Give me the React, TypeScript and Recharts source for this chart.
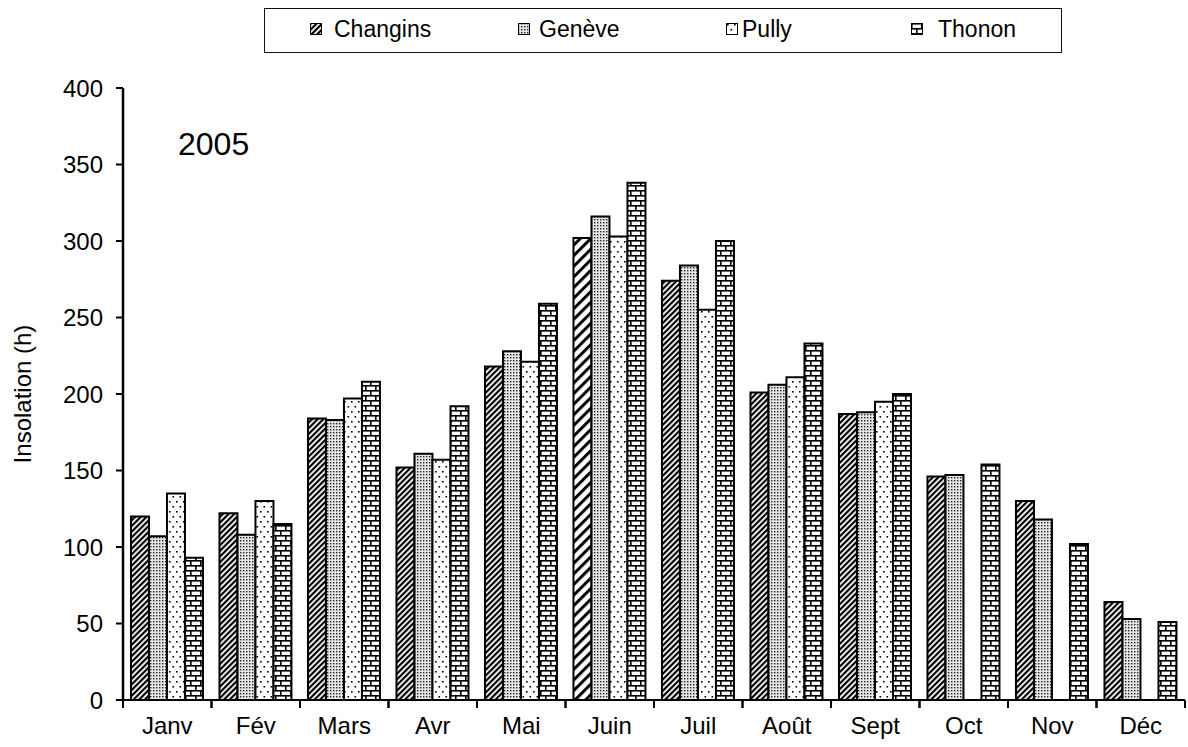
import React from "react";
import { BarChart, Bar, XAxis, YAxis, Cell, Label } from "recharts";

const MONTHS = ["Janv", "Fév", "Mars", "Avr", "Mai", "Juin", "Juil", "Août", "Sept", "Oct", "Nov", "Déc"];
const CHANGINS = [120, 122, 184, 152, 218, 302, 274, 201, 187, 146, 130, 64];
const GENEVE = [107, 108, 183, 161, 228, 316, 284, 206, 188, 147, 118, 53];
const PULLY = [135, 130, 197, 157, 221, 303, 255, 211, 195, null, null, null];
const THONON = [93, 115, 208, 192, 259, 338, 300, 233, 200, 154, 102, 51];
const Y_TICKS = [0, 50, 100, 150, 200, 250, 300, 350, 400];
const SERIES_NAMES = ["Changins", "Genève", "Pully", "Thonon"];
const YEAR_LABEL = "2005";
const Y_TITLE = "Insolation (h)";

const data = MONTHS.map((m, i) => ({
  month: m,
  changins: CHANGINS[i],
  geneve: GENEVE[i],
  pully: PULLY[i],
  thonon: THONON[i],
}));

const W = 1188;
const H = 747;
const MARGIN = { top: 88, right: 3, left: 0, bottom: 0 };
const Y_AXIS_W = 123;
const X_AXIS_H = 47;
const PLOT_BOTTOM = H - MARGIN.bottom - X_AXIS_H;
const BAND = (W - MARGIN.left - MARGIN.right - Y_AXIS_W) / MONTHS.length;
const FONT = "'Liberation Sans', Arial, sans-serif";

const PATTERN_IDS = ["pHatch", "pGeneve", "pPully", "pBrick"];

const XTick = (props: any) => {
  const { x, payload } = props;
  const y = PLOT_BOTTOM;
  const half = BAND / 2;
  return (
    <g>
      <line x1={x - half} y1={y} x2={x - half} y2={y + 8} stroke="#000" strokeWidth={2} />
      <line x1={x + half} y1={y} x2={x + half} y2={y + 8} stroke="#000" strokeWidth={2} />
      <text x={x} y={y + 34} textAnchor="middle" fontSize={24} fontFamily={FONT} fill="#000">
        {payload.value}
      </text>
    </g>
  );
};

const YTitle = (props: any) => {
  const vb = props.viewBox || {};
  const cx = 22;
  const cy = (vb.y ?? 88) + (vb.height ?? 612) / 2;
  return (
    <text
      x={cx}
      y={cy}
      transform={`rotate(-90, ${cx}, ${cy})`}
      textAnchor="middle"
      dominantBaseline="central"
      fontSize={24}
      fontFamily={FONT}
      fill="#000"
    >
      {Y_TITLE}
    </text>
  );
};

const Defs = () => (
  <defs>
    <pattern id="pHatch" patternUnits="userSpaceOnUse" width="4" height="4" patternTransform="rotate(45)">
      <rect width="4" height="4" fill="#fff" />
      <rect x="0" y="0" width="2.2" height="4" fill="#000" />
    </pattern>
    <pattern id="pHatchWide" patternUnits="userSpaceOnUse" width="7.5" height="7.5" patternTransform="rotate(45)">
      <rect width="7.5" height="7.5" fill="#fff" />
      <rect x="0" y="0" width="3" height="7.5" fill="#000" />
    </pattern>
    <pattern id="pGeneve" patternUnits="userSpaceOnUse" width="3" height="3">
      <rect width="3" height="3" fill="#e6e6e6" />
      <rect x="0" y="0" width="1.4" height="1.4" fill="#222" />
    </pattern>
    <pattern id="pPully" patternUnits="userSpaceOnUse" width="7" height="10">
      <rect width="7" height="10" fill="#fff" />
      <rect x="1" y="1" width="1.6" height="1.6" fill="#000" />
      <rect x="4.5" y="6" width="1.6" height="1.6" fill="#000" />
    </pattern>
    <pattern id="pBrick" patternUnits="userSpaceOnUse" width="10" height="10">
      <rect width="10" height="10" fill="#fff" />
      <rect x="0" y="0" width="10" height="1.6" fill="#000" />
      <rect x="0" y="5" width="10" height="1.6" fill="#000" />
      <rect x="0" y="0" width="1.6" height="5" fill="#000" />
      <rect x="5" y="5" width="1.6" height="5" fill="#000" />
    </pattern>
  </defs>
);

const LEGEND_POS = [
  { sw: 310, tx: 334 },
  { sw: 518, tx: 539 },
  { sw: 726, tx: 742 },
  { sw: 911, tx: 938 },
];

export default function App() {
  return (
    <div style={{ position: "absolute", left: 0, top: 0, width: W, height: H, background: "#fff", fontFamily: FONT, overflow: "hidden" }}>
      <svg width="0" height="0" style={{ position: "absolute" }}>
        <Defs />
      </svg>
      <BarChart
        width={W}
        height={H}
        data={data}
        margin={MARGIN}
        barCategoryGap="9%"
        barGap={0}
      >
        <XAxis
          dataKey="month"
          height={X_AXIS_H}
          tickLine={false}
          tickSize={0}
          tickMargin={0}
          axisLine={{ stroke: "#000", strokeWidth: 2 }}
          tick={<XTick />}
          interval={0}
        />
        <XAxis xAxisId="top" orientation="top" dataKey="month" height={0} tick={false} tickLine={false} axisLine={{ stroke: "#000", strokeWidth: 2 }} />
        <YAxis
          width={Y_AXIS_W}
          domain={[0, 400]}
          ticks={Y_TICKS}
          interval={0}
          tickSize={7}
          tickMargin={13}
          tickLine={{ stroke: "#000", strokeWidth: 2 }}
          axisLine={{ stroke: "#000", strokeWidth: 2.5 }}
          tick={{ fontSize: 24, fill: "#000", fontFamily: FONT }}
        >
          <Label content={<YTitle />} />
        </YAxis>
        <YAxis yAxisId="right" orientation="right" width={0} domain={[0, 400]} tick={false} tickLine={false} axisLine={{ stroke: "#000", strokeWidth: 2.5 }} />
        <Bar dataKey="changins" name={SERIES_NAMES[0]} stroke="#000" strokeWidth={2} fill="url(#pHatch)" isAnimationActive={false}>
          {MONTHS.map((m) => (
            <Cell key={m} fill={m === "Juin" ? "url(#pHatchWide)" : "url(#pHatch)"} />
          ))}
        </Bar>
        <Bar dataKey="geneve" name={SERIES_NAMES[1]} stroke="#000" strokeWidth={2} fill="url(#pGeneve)" isAnimationActive={false} />
        <Bar dataKey="pully" name={SERIES_NAMES[2]} stroke="#000" strokeWidth={2} fill="url(#pPully)" isAnimationActive={false} />
        <Bar dataKey="thonon" name={SERIES_NAMES[3]} stroke="#000" strokeWidth={2} fill="url(#pBrick)" isAnimationActive={false} />
      </BarChart>

      <div
        style={{
          position: "absolute",
          left: 264,
          top: 8,
          width: 796,
          height: 43,
          border: "1.5px solid #111",
          background: "#fff",
        }}
      >
        {SERIES_NAMES.map((name, i) => (
          <React.Fragment key={name}>
            <svg
              width={12}
              height={12}
              style={{ position: "absolute", left: LEGEND_POS[i].sw - 265, top: 14 }}
            >
              <rect x={0.5} y={0.5} width={11} height={11} fill={`url(#${PATTERN_IDS[i]})`} stroke="#000" strokeWidth={1} />
            </svg>
            <span
              style={{
                position: "absolute",
                left: LEGEND_POS[i].tx - 265,
                top: 0,
                lineHeight: "40px",
                fontSize: 23,
                color: "#000",
                whiteSpace: "nowrap",
              }}
            >
              {name}
            </span>
          </React.Fragment>
        ))}
      </div>

      <div
        style={{
          position: "absolute",
          left: 178,
          top: 128,
          fontSize: 32,
          lineHeight: "32px",
          color: "#000",
        }}
      >
        {YEAR_LABEL}
      </div>
    </div>
  );
}
